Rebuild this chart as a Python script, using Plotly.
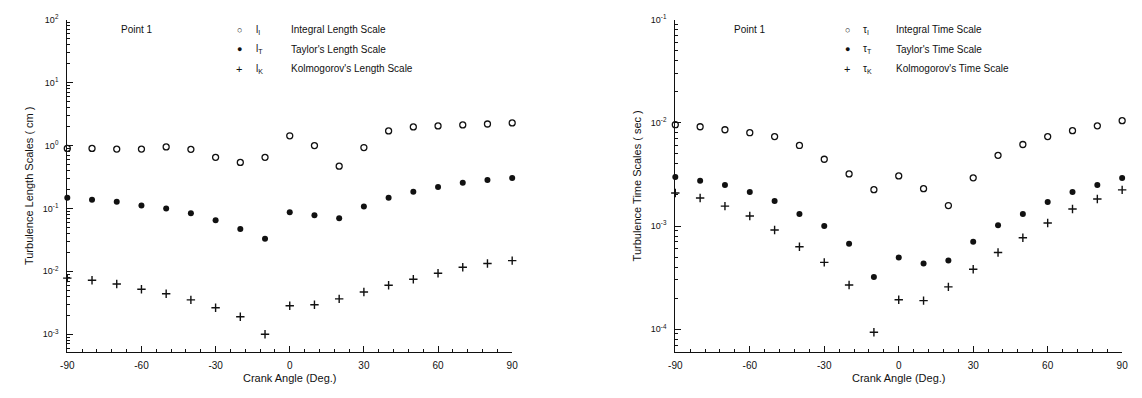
import plotly.graph_objects as go

W, H = 1142, 398

angle = [-90, -80, -70, -60, -50, -40, -30, -20, -10, 0, 10, 20, 30, 40, 50, 60, 70, 80, 90]

integral_length = [0.90, 0.90, 0.88, 0.88, 0.95, 0.87, 0.65, 0.54, 0.65, 1.43, 1.0, 0.47, 0.93, 1.71, 1.98, 2.05, 2.13, 2.2, 2.29]
taylor_length = [0.148, 0.138, 0.128, 0.111, 0.100, 0.0835, 0.065, 0.047, 0.033, 0.0866, 0.078, 0.070, 0.107, 0.148, 0.185, 0.22, 0.255, 0.284, 0.305]
kolmo_length = [0.0078, 0.0072, 0.0063, 0.0052, 0.0044, 0.00352, 0.00264, 0.0019, 0.0010, 0.00284, 0.00294, 0.00365, 0.0047, 0.0060, 0.0075, 0.0093, 0.0116, 0.0133, 0.0148]

integral_time = [0.0096, 0.00917, 0.00858, 0.00803, 0.00736, 0.00604, 0.00444, 0.0032, 0.00225, 0.00306, 0.0023, 0.00158, 0.00293, 0.00485, 0.00617, 0.00736, 0.0084, 0.00936, 0.0105]
taylor_time = [0.00299, 0.00274, 0.0025, 0.00214, 0.00175, 0.00131, 0.0010, 0.000674, 0.00032, 0.000496, 0.000434, 0.000464, 0.000704, 0.00102, 0.00131, 0.00171, 0.00214, 0.0025, 0.00292]
kolmo_time = [0.00209, 0.00187, 0.00156, 0.00125, 0.000916, 0.00063, 0.000444, 0.000268, 0.0000934, 0.000193, 0.000189, 0.000257, 0.000381, 0.000553, 0.000769, 0.00107, 0.00146, 0.00183, 0.00224]

x_ticks = [-90, -60, -30, 0, 30, 60, 90]
x_minor = [-84, -78, -72, -66, -54, -48, -42, -36, -24, -18, -12, -6, 6, 12, 18, 24, 36, 42, 48, 54, 66, 72, 78, 84]
len_tickvals = [1e-3, 1e-2, 1e-1, 1e0, 1e1, 1e2]
len_ticktext = ["10<sup>-3</sup>", "10<sup>-2</sup>", "10<sup>-1</sup>", "10<sup>0</sup>", "10<sup>1</sup>", "10<sup>2</sup>"]
time_tickvals = [1e-4, 1e-3, 1e-2, 1e-1]
time_ticktext = ["10<sup>-4</sup>", "10<sup>-3</sup>", "10<sup>-2</sup>", "10<sup>-1</sup>"]
mantissas = [2, 3, 4, 5, 6, 7, 8, 9]
len_minor = [m * d for d in [1e-4, 1e-3, 1e-2, 1e-1, 1e0, 1e1] for m in mantissas]
time_minor = [m * d for d in [1e-5, 1e-4, 1e-3, 1e-2] for m in mantissas]

FONT = "Liberation Sans"
BLACK = "#111111"


def px(x):
    return x / W


def py(y):
    return 1 - y / H


fig = go.Figure()

open_m = dict(symbol="circle-open", size=6, color=BLACK, line=dict(width=1.3, color=BLACK))
fill_m = dict(symbol="circle", size=6, color=BLACK)
plus_m = dict(symbol="cross-thin", size=6, color=BLACK, line=dict(width=1.4, color=BLACK))

for xs, ys, m, xa, ya in [
    (angle, integral_length, open_m, "x", "y"),
    (angle, taylor_length, fill_m, "x", "y"),
    (angle, kolmo_length, plus_m, "x", "y"),
    (angle, integral_time, open_m, "x2", "y2"),
    (angle, taylor_time, fill_m, "x2", "y2"),
    (angle, kolmo_time, plus_m, "x2", "y2"),
]:
    fig.add_trace(go.Scatter(x=xs, y=ys, mode="markers", marker=m, xaxis=xa, yaxis=ya, cliponaxis=False))

xax = dict(range=[-90, 90], tickvals=x_ticks, ticktext=["-90", "-60", "-30", "0", "30", "60", "90"],
           ticks="inside", ticklen=6, tickwidth=1, tickcolor=BLACK, ticklabelstandoff=4,
           minor=dict(tickvals=x_minor, ticks="inside", ticklen=3, tickcolor=BLACK, showgrid=False),
           showline=True, linecolor=BLACK, linewidth=1.2, showgrid=False, zeroline=False,
           tickfont=dict(family=FONT, size=10, color=BLACK),
           title=dict(text="Crank Angle (Deg.)", font=dict(family=FONT, size=11, color=BLACK), standoff=4))

yax = dict(type="log", ticks="inside", ticklen=6, tickwidth=1, tickcolor=BLACK, ticklabelstandoff=6,
           showline=True, linecolor=BLACK, linewidth=1.2, showgrid=False, zeroline=False,
           tickfont=dict(family=FONT, size=9, color=BLACK))

fig.update_layout(
    width=W, height=H,
    margin=dict(l=0, r=0, t=0, b=0),
    paper_bgcolor="white", plot_bgcolor="white",
    showlegend=False,
    xaxis=dict(xax, domain=[px(61), px(511)], anchor="y"),
    yaxis=dict(yax, domain=[py(351), py(13)], anchor="x", range=[-3.28, 2.0],
               tickvals=len_tickvals, ticktext=len_ticktext,
               minor=dict(tickvals=len_minor, ticks="inside", ticklen=3, tickcolor=BLACK, showgrid=False),
               title=dict(text="Turbulence Length Scales ( cm )", font=dict(family=FONT, size=11, color=BLACK), standoff=6)),
    xaxis2=dict(xax, domain=[px(676), px(1128)], anchor="y2"),
    yaxis2=dict(yax, domain=[py(351), py(13)], anchor="x2", range=[-4.22, -1.0],
                tickvals=time_tickvals, ticktext=time_ticktext,
                minor=dict(tickvals=time_minor, ticks="inside", ticklen=3, tickcolor=BLACK, showgrid=False),
                title=dict(text="Turbulence Time Scales ( sec )", font=dict(family=FONT, size=11, color=BLACK), standoff=6)),
)


def text(x, y, s, size=10, anchor="left"):
    fig.add_annotation(x=px(x), y=py(y), xref="paper", yref="paper", text=s, showarrow=False,
                       xanchor=anchor, yanchor="middle", font=dict(family=FONT, size=size, color=BLACK))


rows = [23, 43, 63]
sym = ["○", "●", "+"]

# Left legend
text(113, 23, "Point 1")
len_sub = ["l<sub>I</sub>", "l<sub>T</sub>", "l<sub>K</sub>"]
len_lab = ["Integral Length Scale", "Taylor's Length Scale", "Kolmogorov's Length Scale"]
for r, s, sb, lb in zip(rows, sym, len_sub, len_lab):
    text(235, r, s, size=9 if s != "+" else 11, anchor="center")
    text(250, r, sb)
    text(285, r, lb)

# Right legend
text(733, 23, "Point 1")
time_sub = ["τ<sub>I</sub>", "τ<sub>T</sub>", "τ<sub>K</sub>"]
time_lab = ["Integral Time Scale", "Taylor's Time Scale", "Kolmogorov's Time Scale"]
for r, s, sb, lb in zip(rows, sym, time_sub, time_lab):
    text(850, r, s, size=9 if s != "+" else 11, anchor="center")
    text(864, r, sb)
    text(897, r, lb)

fig.write_html("out.html")
